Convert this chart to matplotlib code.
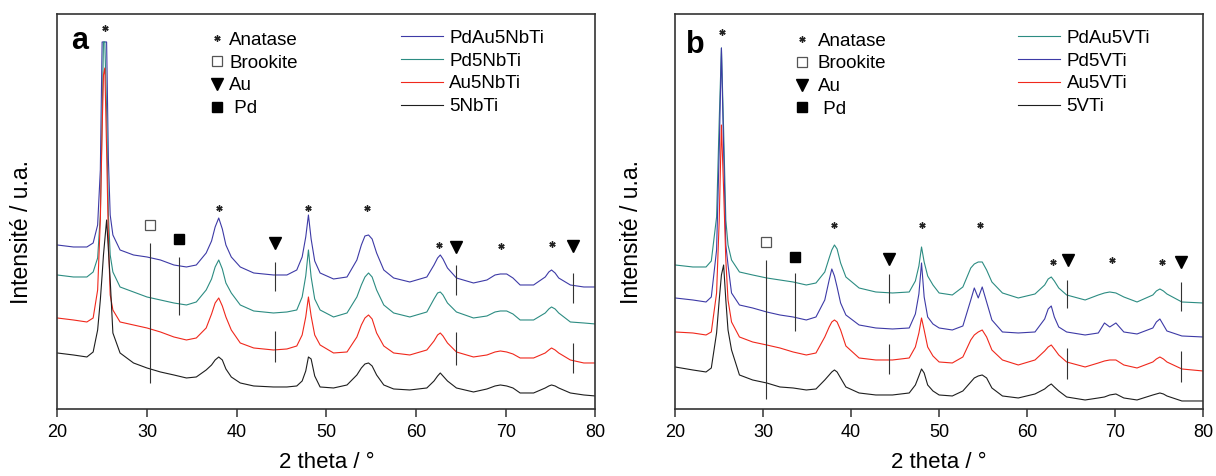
import matplotlib
matplotlib.use("Agg")
import matplotlib.pyplot as plt
from matplotlib.lines import Line2D

plt.rcParams['font.family'] = ['Liberation Sans', 'DejaVu Sans']

# ---------------- Panel a data (2 theta / deg ; intensity a.u.) ----------------
tt_a = [20.0, 21.8, 23.3, 24.0, 24.5, 24.8, 25.0, 25.15, 25.3, 25.5, 25.7, 25.9, 26.2,
        27.0, 28.5, 30.0, 31.5, 33.0, 34.4, 35.5,
        36.6, 37.2, 37.6, 38.0, 38.4, 38.8, 39.4, 40.4,
        41.9, 44.1, 45.6,
        46.7, 47.3, 47.7, 48.0, 48.3, 48.7, 49.3,
        50.8, 52.3,
        53.4, 53.9, 54.3, 54.7, 55.1, 55.6, 56.4,
        57.5, 59.3,
        61.2, 62.0, 62.4, 62.7, 63.0, 63.5, 64.5,
        66.4, 67.9, 68.8, 69.4, 70.1, 70.8, 71.6,
        73.1, 74.4, 74.8, 75.1, 75.5, 75.9, 77.2, 78.7, 80.0]
pdau5nbti = [164, 162, 162, 166, 184, 239, 367, 367, 367, 367, 249, 194, 174,
             159, 154, 152, 149, 144, 142, 144,
             156, 168, 182, 191, 180, 164, 152, 142,
             136, 134, 134,
             139, 152, 172, 194, 170, 148, 136,
             130, 132,
             149, 164, 173, 174, 170, 156, 139,
             131, 127,
             132, 144, 151, 154, 150, 141, 131,
             126, 129, 134, 135, 135, 131, 124,
             124, 132, 137, 139, 136, 131, 124, 122, 122]
pd5nbti = [134, 132, 132, 137, 151, 194, 289, 367, 367, 299, 194, 154, 137,
           122, 117, 112, 109, 106, 104, 107,
           119, 130, 142, 149, 140, 126, 116, 104,
           98, 96, 97,
           99, 112, 133, 159, 132, 110, 99,
           92, 96,
           112, 124, 132, 136, 132, 119, 104,
           96, 92,
           97, 110, 116, 117, 114, 106, 97,
           91, 93, 97, 98, 98, 95, 89,
           89, 96, 100, 102, 100, 96, 87, 86, 85]
au5nbti = [91, 89, 87, 91, 119, 189, 279, 334, 341, 259, 169, 114, 99,
           87, 84, 81, 77, 72, 69, 71,
           81, 95, 106, 111, 103, 92, 79, 66,
           61, 59, 60,
           63, 74, 92, 112, 93, 74, 64,
           56, 57,
           72, 84, 91, 94, 90, 76, 63,
           56, 54,
           59, 68, 74, 76, 73, 66, 57,
           52, 54, 57, 58, 57, 55, 51,
           51, 56, 59, 61, 59, 56, 49, 46, 46]
nbti5 = [56, 54, 52, 57, 79, 109, 134, 154, 169, 189, 159, 129, 76,
         56, 46, 41, 37, 34, 31, 32,
         39, 44, 49, 52, 49, 40, 32, 26,
         23, 22, 22,
         23, 28, 38, 52, 50, 33, 22,
         21, 24,
         34, 41, 45, 46, 43, 34, 24,
         20, 19,
         21, 28, 33, 36, 33, 28, 21,
         17, 20, 23, 24, 23, 21, 16,
         16, 21, 23, 24, 23, 21, 16, 14, 13]

# reflections / reference ticks, panel a
ana_x_a = [25.3, 38.0, 48.0, 54.5, 62.6, 69.5, 75.1]
ana_h_a = [381, 201, 201, 201, 164, 163, 165]
brook_x_a, brook_h_a = [30.35], [184]
pd_x_a, pd_h_a = [33.6], [170]
au_x_a = [44.3, 64.5, 77.5]
au_h_a = [166, 162, 163]
ref_x_a = [30.35, 33.57, 44.3, 44.3, 64.5, 64.5, 77.5, 77.5]
ref_lo_a = [26, 94, 118, 47, 114, 44, 106, 36]
ref_hi_a = [166, 152, 147, 78, 144, 77, 136, 66]

# ---------------- Panel b data ----------------
tt_b = [20.0, 22.0, 23.5, 24.1, 24.7, 25.0, 25.25, 25.5, 25.75, 26.0, 26.4, 27.3,
        28.8, 30.4, 31.9, 33.4, 34.9, 36.0,
        37.0, 37.5, 37.8, 38.1, 38.4, 38.8, 39.4, 40.9,
        42.8, 44.7, 46.6,
        47.3, 47.7, 48.0, 48.3, 48.7, 49.3,
        50.0, 51.5, 52.7, 53.6, 54.0, 54.45, 54.9, 55.4, 56.0, 57.2, 59.0, 60.9,
        62.0, 62.4, 62.75, 63.1, 63.6,
        64.5, 66.6, 68.1, 68.8, 69.4, 70.1, 71.0, 72.5,
        74.3, 74.7, 75.1, 75.5, 75.9,
        77.6, 80.0]
pdau5vti = [144, 142, 142, 148, 192, 289, 361, 279, 189, 164, 149, 137,
            134, 131, 129, 127, 124, 126,
            137, 151, 159, 164, 160, 146, 132, 121,
            117, 116, 117,
            128, 143, 162, 147, 133, 124,
            116, 114, 122, 141, 145, 147, 147, 139, 127, 116, 111, 115,
            124, 130, 132, 128, 121,
            114, 109, 114, 116, 117, 116, 112, 107,
            114, 118, 120, 118, 115,
            107, 106]
pd5vti = [111, 109, 107, 112, 159, 259, 361, 259, 164, 144, 116, 104,
          101, 97, 94, 92, 89, 92,
          109, 129, 140, 133, 122, 106, 94, 84,
          81, 80, 81,
          95, 115, 146, 112, 92, 85,
          81, 79, 83, 109, 121, 111, 122, 107, 89, 77, 76, 77,
          90, 100, 103, 92, 82,
          77, 74, 76, 86, 82, 86, 77, 75,
          81, 87, 90, 84, 78,
          73, 72]
au5vti = [77, 76, 74, 77, 116, 189, 284, 219, 149, 109, 87, 72,
          67, 64, 61, 57, 54, 56,
          72, 82, 87, 89, 87, 79, 63, 51,
          49, 49, 51,
          62, 76, 91, 79, 62, 53,
          47, 46, 52, 69, 74, 77, 79, 72, 59, 49, 44, 49,
          58, 62, 64, 60, 54,
          47, 42, 46, 48, 49, 49, 44, 41,
          47, 50, 52, 50, 47,
          40, 38]
vti5 = [42, 39, 37, 41, 76, 109, 134, 144, 109, 79, 59, 34,
        29, 26, 22, 21, 19, 20,
        29, 34, 37, 39, 37, 31, 22, 16,
        14, 14, 16,
        24, 33, 40, 36, 24, 18,
        14, 13, 18, 27, 31, 33, 34, 31, 21, 13, 11, 15,
        20, 23, 25, 22, 18,
        12, 9, 11, 12, 14, 15, 11, 9,
        14, 15, 16, 15, 13,
        8, 8]

ana_x_b = [25.3, 38.1, 48.1, 54.7, 62.9, 69.6, 75.3]
ana_h_b = [377, 184, 184, 184, 147, 149, 147]
brook_x_b, brook_h_b = [30.3], [167]
pd_x_b, pd_h_b = [33.6], [152]
au_x_b = [44.3, 64.6, 77.5]
au_h_b = [150, 149, 147]
ref_x_b = [30.36, 33.57, 44.34, 44.34, 64.56, 64.56, 77.48, 77.48]
ref_lo_b = [10, 78, 106, 35, 101, 30, 98, 27]
ref_hi_b = [149, 136, 135, 65, 129, 61, 127, 58]

C_BLUE = '#3d3aa6'
C_TEAL = '#2c8c82'
C_RED = '#f0281c'
C_BLACK = '#1e1e1e'
C_MARK = '#222222'

fig = plt.figure(figsize=(12.16, 4.76), dpi=100)
ax_a = fig.add_axes([0.0471, 0.1408, 0.4426, 0.8298])
ax_b = fig.add_axes([0.5553, 0.1408, 0.4340, 0.8298])


def draw_panel(ax, tt, series, ana, brook, pdm, au, refs, letter, letter_xy,
               sym_anchor, line_anchor, sym_pad, line_pad, ylab_x):
    for y, color, lab in series:
        ax.plot(tt, y, color=color, lw=0.8, label=lab)
    rx, rlo, rhi = refs
    ax.vlines(rx, rlo, rhi, colors='#333333', lw=0.8)
    ax.plot(ana[0], ana[1], ls='none', marker=(6, 2, 0), ms=4.5, mew=1.0,
            color=C_MARK)
    ax.plot(brook[0], brook[1], ls='none', marker='s', ms=7, mfc='white',
            mec='#555555', mew=0.9)
    ax.plot(pdm[0], pdm[1], ls='none', marker='s', ms=6.5, color='black')
    ax.plot(au[0], au[1], ls='none', marker='v', ms=9, color='black')

    ax.set_xlim(20, 80)
    ax.set_ylim(0, 395)
    ax.set_xticks([20, 30, 40, 50, 60, 70, 80])
    ax.set_yticks([])
    ax.tick_params(axis='x', direction='out', length=6, width=1.1,
                   labelsize=13, pad=5, color='#333333')
    for s in ax.spines.values():
        s.set_linewidth(1.2)
        s.set_color('#333333')
    ax.set_xlabel('2 theta / °', fontsize=16)
    ax.xaxis.set_label_coords(0.5, -0.110)
    ax.set_ylabel('Intensité / u.a.', fontsize=16.5)
    ax.yaxis.set_label_coords(ylab_x, 0.448)
    ax.text(letter_xy[0], letter_xy[1], letter, transform=ax.transAxes,
            fontsize=22, fontweight='bold', ha='left', va='baseline')

    sym_handles = [
        Line2D([], [], ls='none', marker=(6, 2, 0), ms=4.5, mew=1.0, color=C_MARK),
        Line2D([], [], ls='none', marker='s', ms=7, mfc='white', mec='#555555', mew=0.9),
        Line2D([], [], ls='none', marker='v', ms=9, color='black'),
        Line2D([], [], ls='none', marker='s', ms=6.5, color='black'),
    ]
    sym_labels = ['Anatase', 'Brookite', 'Au', ' Pd']
    leg1 = ax.legend(sym_handles, sym_labels, loc='upper left',
                     bbox_to_anchor=sym_anchor, frameon=False, fontsize=13.5,
                     handlelength=0.8, handletextpad=sym_pad, borderpad=0,
                     borderaxespad=0, labelspacing=0.3)
    ax.add_artist(leg1)
    ax.legend(loc='upper left', bbox_to_anchor=line_anchor, frameon=False,
              fontsize=13.5, handlelength=2.25, handletextpad=line_pad,
              borderpad=0, borderaxespad=0, labelspacing=0.3)


draw_panel(ax_a, tt_a,
           [(pdau5nbti, C_BLUE, 'PdAu5NbTi'), (pd5nbti, C_TEAL, 'Pd5NbTi'),
            (au5nbti, C_RED, 'Au5NbTi'), (nbti5, C_BLACK, '5NbTi')],
           (ana_x_a, ana_h_a), (brook_x_a, brook_h_a), (pd_x_a, pd_h_a),
           (au_x_a, au_h_a), (ref_x_a, ref_lo_a, ref_hi_a),
           'a', (0.026, 0.911), (0.283, 0.955), (0.638, 0.960), 0.26, 0.33,
           -0.045)

draw_panel(ax_b, tt_b,
           [(pdau5vti, C_TEAL, 'PdAu5VTi'), (pd5vti, C_BLUE, 'Pd5VTi'),
            (au5vti, C_RED, 'Au5VTi'), (vti5, C_BLACK, '5VTi')],
           (ana_x_b, ana_h_b), (brook_x_b, brook_h_b), (pd_x_b, pd_h_b),
           (au_x_b, au_h_b), (ref_x_b, ref_lo_b, ref_hi_b),
           'b', (0.020, 0.901), (0.226, 0.953), (0.649, 0.960), 0.43, 0.36,
           -0.061)

fig.savefig('out.png', dpi=100)
